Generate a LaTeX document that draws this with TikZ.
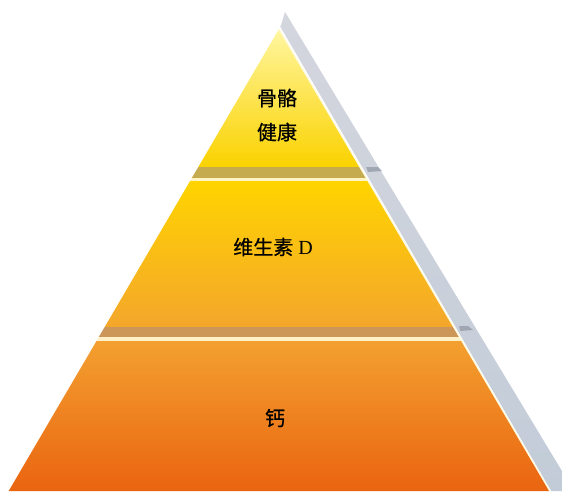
\documentclass[tikz,border=0pt]{standalone}
\usepackage{fontspec}
\newfontfamily\cjk[FakeBold=0.6]{Noto Sans CJK SC}
\setmainfont{Liberation Serif}
\definecolor{stripT}{RGB}{212,214,222}
\definecolor{stripB}{RGB}{194,204,216}
\definecolor{nubc}{RGB}{160,166,178}
\definecolor{yT}{RGB}{255,246,160}
\definecolor{yB}{RGB}{250,210,0}
\definecolor{yBand}{RGB}{198,170,78}
\definecolor{gapA}{RGB}{255,244,196}
\definecolor{mT}{RGB}{255,212,0}
\definecolor{mB}{RGB}{244,166,44}
\definecolor{mBand}{RGB}{204,150,88}
\definecolor{gapB}{RGB}{255,240,200}
\definecolor{oT}{RGB}{243,160,48}
\definecolor{oB}{RGB}{234,100,16}
\definecolor{edgec}{RGB}{255,250,220}
\begin{document}
\begin{tikzpicture}[x=1pt,y=-1pt,
  lbl/.style={font=\cjk\fontsize{20}{34}\selectfont, text=black, align=center, inner sep=0pt}]
\useasboundingbox (0,0) rectangle (562,491);
\fill[white] (0,0) rectangle (562,491);
\begin{scope}
\clip (0,0) rectangle (562,491);
% gray backing strip
\shade[top color=stripT, bottom color=stripB]
  (280.5,27) -- (285,12) -- (574,491) -- (551.3,491) -- cycle;
\end{scope}
% small shadow nubs on the strip
\fill[nubc] (366.2,167) -- (378,167) -- (382,171) -- (368,172) -- cycle;
\fill[nubc] (459.2,326) -- (468,326) -- (473,330) -- (460,331) -- cycle;
% top tier
\shade[top color=yT, bottom color=yB]
  (279,29) -- (359.7,167) -- (198.3,167) -- cycle;
\fill[yBand] (198.3,167) -- (359.7,167) -- (366.2,178) -- (191.8,178) -- cycle;
\fill[gapA] (191.8,178) -- (366.2,178) -- (367.9,181) -- (190.1,181) -- cycle;
% middle tier
\shade[top color=mT, bottom color=mB]
  (190.1,181) -- (367.9,181) -- (453.3,327) -- (104.7,327) -- cycle;
\fill[mBand] (104.7,327) -- (453.3,327) -- (459.2,337) -- (98.8,337) -- cycle;
\fill[gapB] (98.8,337) -- (459.2,337) -- (461.5,341) -- (96.5,341) -- cycle;
% bottom tier
\shade[top color=oT, bottom color=oB]
  (96.5,341) -- (461.5,341) -- (549.3,491) -- (8.7,491) -- cycle;
% right edge highlight
\draw[edgec, line width=1.2pt] (279.6,30) -- (549.9,491);
% labels
\node[lbl] (t1) at (277,115) {骨骼\\健康};
\node[lbl, font=\fontsize{20}{22}\selectfont] (t2) at (273,247) {{\cjk 维生素} D};
\node[lbl] (t3) at (275,418) {钙};
\end{tikzpicture}
\end{document}
